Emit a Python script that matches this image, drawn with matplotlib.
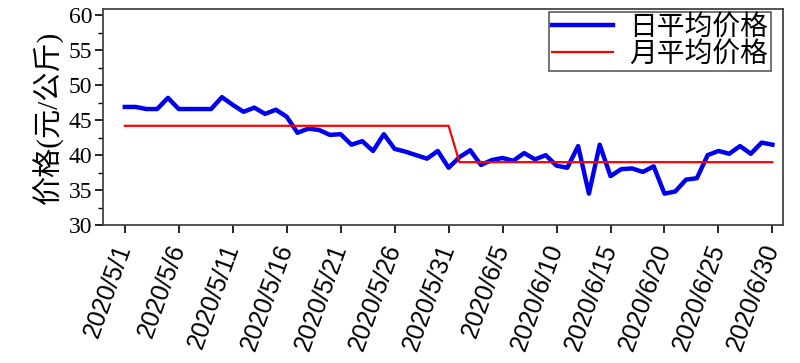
import pandas as pd
import matplotlib.pyplot as plt
from matplotlib.ticker import MultipleLocator

# 日期和价格数据
dates = pd.date_range("2020-05-01", "2020-06-30", freq="D")
daily_price = [46.9, 46.9, 46.6, 46.6, 48.2, 46.6, 46.6, 46.6, 46.6, 48.3,
               47.2, 46.2, 46.8, 45.9, 46.5, 45.5, 43.2, 43.8, 43.6, 42.9,
               43.0, 41.5, 42.0, 40.6, 43.0, 40.9, 40.5, 40.0, 39.5, 40.6,
               38.2, 39.7, 40.7, 38.6, 39.3, 39.6, 39.2, 40.3, 39.4, 40.0,
               38.5, 38.2, 41.3, 34.5, 41.5, 37.0, 38.0, 38.1, 37.6, 38.4,
               34.5, 34.8, 36.5, 36.7, 40.0, 40.6, 40.2, 41.3, 40.2, 41.8,
               41.5]
month_avg = {5: 44.2, 6: 39.0}
monthly_price = [month_avg[d.month] for d in dates]

tick_dates = pd.date_range("2020-05-01", "2020-06-30", freq="5D")

serif_cjk = ["Liberation Serif", "Noto Sans CJK SC"]

fig = plt.figure(figsize=(8, 3.63), dpi=100)
ax = fig.add_axes([0.129, 0.38, 0.85, 0.595])

ax.plot(dates, daily_price, color="#0000ee", lw=3.2, label="日平均价格")
ax.plot(dates, monthly_price, color="#ff0000", lw=1.6, label="月平均价格")

ax.set_xlim(pd.Timestamp("2020-04-29"), pd.Timestamp("2020-07-01"))
ax.set_ylim(30, 60.9)
ax.yaxis.set_major_locator(MultipleLocator(5))
ax.yaxis.set_minor_locator(MultipleLocator(2.5))
ax.set_xticks(tick_dates)
ax.set_xticklabels([f"{d.year}/{d.month}/{d.day}" for d in tick_dates],
                   rotation=70, ha="right", va="center", rotation_mode="anchor",
                   family="Liberation Sans", fontsize=18)
for lab in ax.get_yticklabels():
    lab.set_family("Liberation Serif")
    lab.set_fontsize(17)
ax.tick_params(axis="x", which="major", length=6, width=1.2, pad=8,
               top=False, direction="out")
ax.tick_params(axis="y", which="major", length=6, width=1.2, pad=2,
               right=False, direction="out")
ax.tick_params(axis="y", which="minor", length=3.5, width=1, right=False)

for s in ax.spines.values():
    s.set_color("#444444")
    s.set_linewidth(1.3)

ax.set_ylabel("价格(元/公斤)", family=serif_cjk, fontsize=21, labelpad=3)

leg = ax.legend(loc="upper right", bbox_to_anchor=(0.982, 0.986),
                borderaxespad=0, frameon=True, fancybox=False,
                prop={"family": serif_cjk, "size": 20},
                handlelength=2.2, handletextpad=0.6, labelspacing=0.05,
                borderpad=0.1)
leg.get_frame().set_edgecolor("#333333")
leg.get_frame().set_linewidth(1.2)

fig.savefig("out.png", dpi=100)
